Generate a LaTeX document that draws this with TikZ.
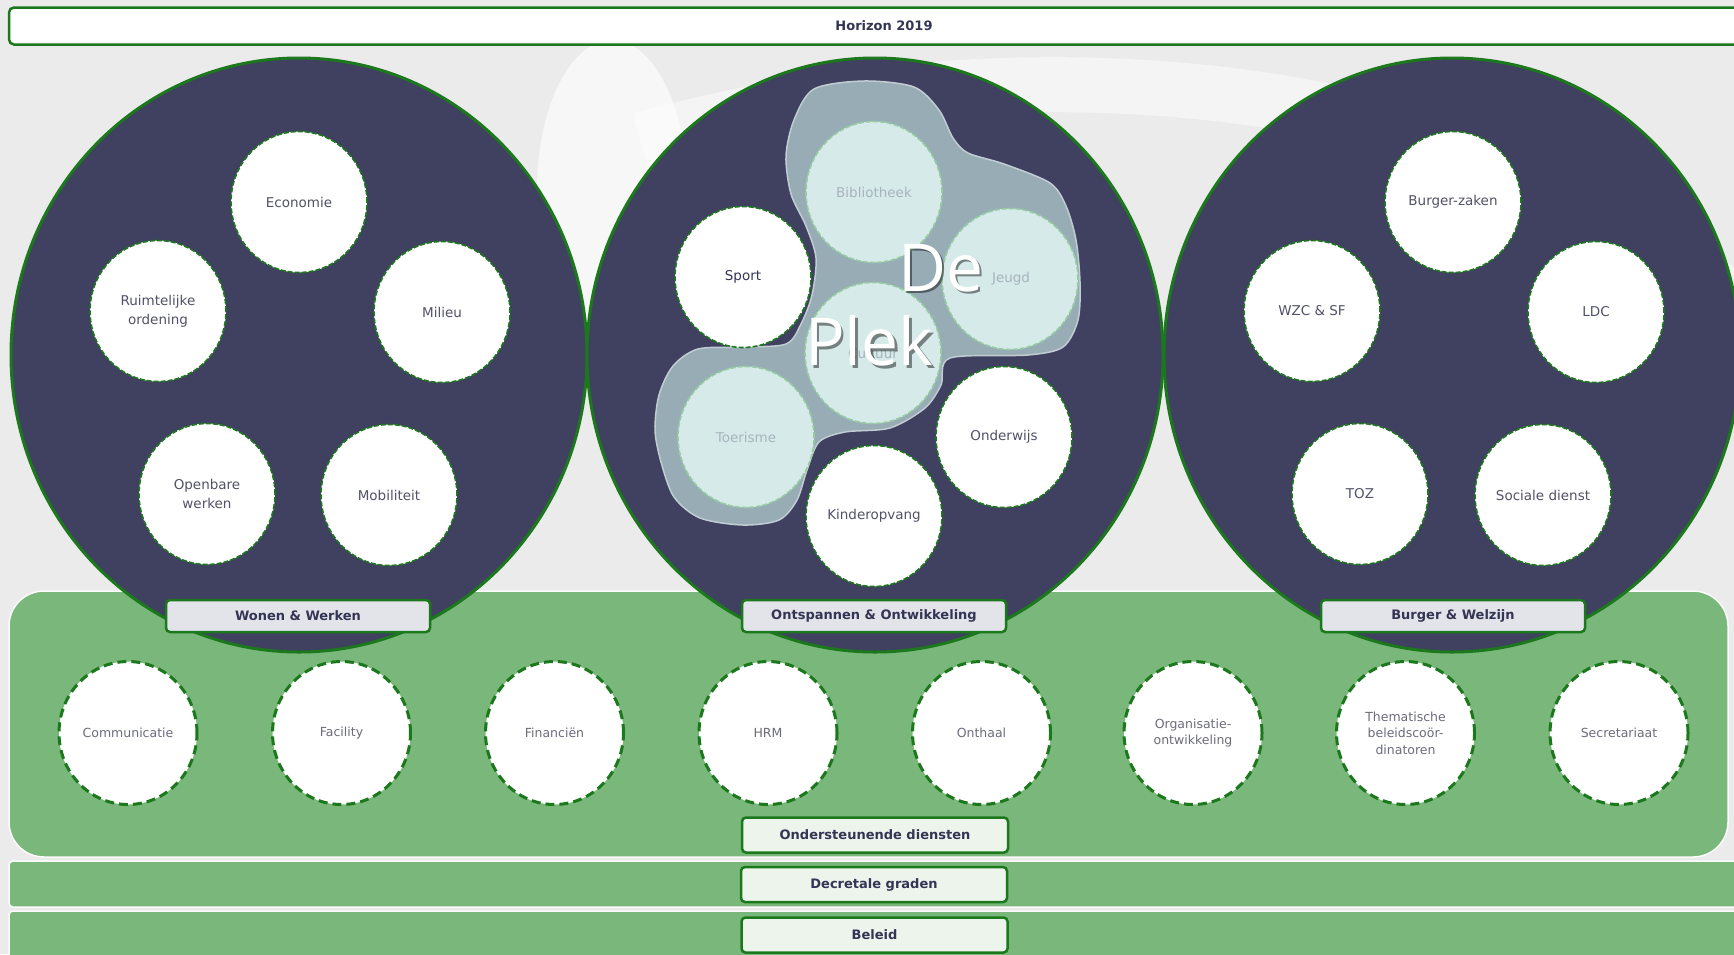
\documentclass[tikz,border=0pt]{standalone}
\usepackage{fontspec}
\setmainfont{DejaVu Sans}
\newfontfamily\plekfont{Open Sans}
\usetikzlibrary{shapes.geometric}

\definecolor{bg}{RGB}{235,235,236}
\definecolor{navy}{RGB}{64,64,96}
\definecolor{rim}{RGB}{28,120,28}
\definecolor{lightrim}{RGB}{150,205,160}
\definecolor{band}{RGB}{121,183,122}
\definecolor{ink}{RGB}{52,52,84}
\definecolor{greyink}{RGB}{82,82,104}
\definecolor{lightink}{RGB}{108,108,124}
\definecolor{plek}{RGB}{152,172,182}
\definecolor{pale}{RGB}{214,234,234}
\definecolor{paleink}{RGB}{168,180,188}
\definecolor{tagfill}{RGB}{226,228,234}
\definecolor{laagfill}{RGB}{236,244,236}

\begin{document}
\begin{tikzpicture}[x=1pt,y=-1pt]
    \tikzstyle{domein}=[ellipse, fill=navy, draw=rim, line width=3pt, minimum width=576pt, minimum height=594pt, inner sep=0pt]
    \tikzstyle{dienst}=[ellipse, fill=white, draw=rim, line width=1.6pt, dash pattern=on 5pt off 2pt, minimum width=136pt, minimum height=141pt, inner sep=0pt, align=center, text=greyink, font=\fontsize{13.5}{19}\selectfont]
    \tikzstyle{plekdienst}=[dienst, fill=pale, draw=lightrim, text=paleink]
    \tikzstyle{steun}=[ellipse, fill=white, draw=rim, line width=3pt, dash pattern=on 9pt off 5pt, minimum width=138pt, minimum height=143pt, inner sep=0pt, align=center, text=lightink, font=\fontsize{12.5}{16.5}\selectfont]
    \tikzstyle{tag}=[rectangle, rounded corners=4pt, fill=tagfill, draw=rim, line width=2.5pt, minimum width=264pt, minimum height=32pt, text=ink, font=\bfseries\fontsize{13}{15}\selectfont]
    \tikzstyle{laagtag}=[tag, fill=laagfill, minimum width=266pt, minimum height=35pt]
    \tikzstyle{pleklabel}=[anchor=base west, inner sep=0pt, font=\plekfont\fontsize{66}{74}\selectfont]

    % background
    \fill[bg] (0,0) rectangle (1734,954);
    \useasboundingbox (0,0) rectangle (1734,954);
    \fill[white, opacity=0.6] (612,190) ellipse (75 and 150);
    \draw[white, opacity=0.45, line width=55pt] (640,140) .. controls (1000,40) and (1500,60) .. (1760,330);

    % layers
    \filldraw[fill=band, draw=white!80!bg, line width=1.5pt, rounded corners=35pt] (9,591) rectangle (1728,857);
    \filldraw[fill=band, draw=white!80!bg, line width=1.5pt, rounded corners=4pt] (9,861) rectangle (1760,907);
    \filldraw[fill=band, draw=white!80!bg, line width=1.5pt, rounded corners=4pt] (9,911) rectangle (1760,970);

    % domains
    \node[domein] (ww) at (299,355) {};
    \node[domein] (oo) at (875,355) {};
    \node[domein] (bw) at (1452,355) {};

    % De Plek
    \filldraw[fill=plek, draw=plek!60!white, line width=1.5pt] plot[smooth cycle, tension=0.5] coordinates {
        (814,89) (864,81) (914,87) (939,110) (953,138) (968,153) (1004,164) (1050,183)
        (1066,206) (1076,240) (1080,282) (1078,320) (1063,347) (1028,355) (950,358)
        (941,385) (925,408) (890,428) (845,432) (819,442) (807,470) (797,500) (779,520)
        (743,525) (700,518) (674,497) (661,462) (655,430) (659,395) (673,366) (698,349)
        (743,347) (786,344) (801,324) (812,295) (816,258) (806,226) (791,194) (786,156) (794,120)};

    % Wonen & Werken
    \node[dienst] (eco) at (299,202) {Economie};
    \node[dienst] (ro) at (158,311) {Ruimtelijke\\ordening};
    \node[dienst] (mil) at (442,312) {Milieu};
    \node[dienst] (ow) at (207,494) {Openbare\\werken};
    \node[dienst] (mob) at (389,495) {Mobiliteit};

    % Ontspannen & Ontwikkeling
    \node[plekdienst] (bib) at (874,192) {Bibliotheek};
    \node[dienst, text=ink] (spo) at (743,277) {Sport};
    \node[plekdienst] (jeu) at (1010,279) {\hspace{2pt}Jeugd};
    \node[plekdienst] (cul) at (873,353) {Cultuur};
    \node[plekdienst] (toe) at (746,437) {Toerisme};
    \node[dienst] (ond) at (1004,437) {Onderwijs};
    \node[dienst] (kin) at (874,516) {Kinderopvang};

    \node[pleklabel, text=black, opacity=0.45] (deshadow) at (900.5,293.5) {De};
    \node[pleklabel, text=black, opacity=0.45] (plekshadow) at (807.5,368) {Plek};
    \node[pleklabel, text=white] (de) at (898,291) {De};
    \node[pleklabel, text=white] (plk) at (805,365.5) {Plek};

    % Burger & Welzijn
    \node[dienst] (bz) at (1453,202) {Burger-zaken};
    \node[dienst] (wzc) at (1312,311) {WZC \& SF};
    \node[dienst] (ldc) at (1596,312) {LDC};
    \node[dienst] (toz) at (1360,494) {TOZ};
    \node[dienst] (soc) at (1543,495) {Sociale dienst};

    % domain labels
    \node[tag] (wwtag) at (298,616) {Wonen \& Werken};
    \node[tag] (ootag) at (874,616) {Ontspannen \& Ontwikkeling};
    \node[tag] (bwtag) at (1453,616) {Burger \& Welzijn};

    % support services
    \node[steun] (com) at (128,733) {Communicatie};
    \node[steun] (fac) at (341.5,733) {Facility};
    \node[steun] (fin) at (554.5,733) {Financiën};
    \node[steun] (hrm) at (768,733) {HRM};
    \node[steun] (ont) at (981.5,733) {Onthaal};
    \node[steun] (org) at (1193,733) {Organisatie-\\ontwikkeling};
    \node[steun] (the) at (1405.5,733) {Thematische\\beleidscoör-\\dinatoren};
    \node[steun] (sec) at (1619,733) {Secretariaat};

    % layer labels
    \node[laagtag] (ondtag) at (875,835) {Ondersteunende diensten};
    \node[laagtag] (dectag) at (874,884.5) {Decretale graden};
    \node[laagtag] (beltag) at (874.5,935) {Beleid};

    % top bar
    \node[tag, fill=white, minimum width=1750pt, minimum height=37pt, rounded corners=5pt] (hor) at (884,26) {Horizon 2019};
\end{tikzpicture}
\end{document}
